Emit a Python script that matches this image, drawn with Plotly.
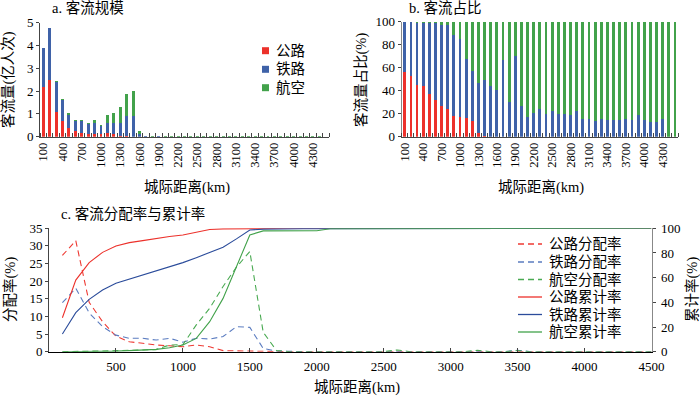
import plotly.graph_objects as go

# ---------------- data ----------------
km = [100, 200, 300, 400, 500, 600, 700, 800, 900, 1000,
      1100, 1200, 1300, 1400, 1500, 1600, 1700, 1800, 1900, 2000,
      2100, 2200, 2300, 2400, 2500, 2600, 2700, 2800, 2900, 3000,
      3100, 3200, 3300, 3400, 3500, 3600, 3700, 3800, 3900, 4000,
      4100, 4200, 4300, 4400, 4500]
bar_tick_km = [100, 400, 700, 1000, 1300, 1600, 1900, 2200, 2500, 2800, 3100, 3400, 3700, 4000, 4300]
line_tick_km = [500, 1000, 1500, 2000, 2500, 3000, 3500, 4000, 4500]

# a. passenger volume (100 million person-trips)
road_vol = [2.16, 2.49, 1.10, 0.69, 0.39, 0.23, 0.18, 0.13, 0.13, 0.10,
            0.15, 0.12, 0.03, 0.015, 0, 0, 0, 0, 0, 0,
            0, 0, 0, 0, 0, 0, 0, 0, 0, 0,
            0, 0, 0, 0, 0, 0, 0, 0, 0, 0,
            0, 0, 0, 0, 0]
rail_vol = [1.71, 2.26, 1.31, 0.92, 0.57, 0.47, 0.49, 0.41, 0.48, 0.37,
            0.46, 0.49, 0.58, 0.895, 0.91, 0.12, 0.012, 0.004, 0.010, 0.004,
            0.003, 0.003, 0.004, 0.003, 0.004, 0.003, 0.003, 0.003, 0.003, 0.003,
            0.002, 0.002, 0.002, 0.002, 0.002, 0.002, 0.002, 0.002, 0.002, 0.002,
            0.002, 0.002, 0.002, 0, 0]
air_vol = [0, 0, 0.05, 0.04, 0.06, 0.03, 0.06, 0.04, 0.12, 0.04,
           0.34, 0.41, 0.68, 0.95, 1.11, 0.13, 0.006, 0.009, 0.004, 0.011,
           0.015, 0.013, 0.012, 0.013, 0.013, 0.012, 0.012, 0.013, 0.011, 0.014,
           0.013, 0.014, 0.012, 0.013, 0.012, 0.012, 0.011, 0.012, 0.009, 0.012,
           0.013, 0.013, 0.011, 0.010, 0.008]

# b. share (%)
road_pct = [56.5, 52.8, 45.0, 44.0, 37.0, 32.0, 26.7, 24.0, 18.0, 16.8,
            16.0, 14.0, 3.0, 1.0, 0, 0, 0, 0, 0, 0,
            0, 0, 0, 0, 0, 0, 0, 0, 0, 0,
            0, 0, 0, 0, 0, 0, 0, 0, 0, 0,
            0, 0, 0, 0, 0]
rail_pct = [43.5, 47.2, 54.0, 54.5, 61.5, 66.5, 70.3, 73.0, 70.4, 67.8,
            52.0, 43.4, 43.4, 48.3, 44.0, 41.0, 66.7, 30.0, 70.0, 26.7,
            16.8, 20.9, 23.8, 19.7, 22.0, 19.7, 19.7, 18.6, 22.0, 15.4,
            15.4, 13.6, 15.4, 14.5, 14.5, 14.5, 15.4, 14.5, 18.6, 14.5,
            13.0, 13.0, 15.4, 0, 0]
air_pct = [0, 0, 1.0, 1.5, 1.5, 1.5, 3.0, 3.0, 11.6, 15.4,
           32.0, 42.6, 53.6, 50.7, 56.0, 59.0, 33.3, 70.0, 30.0, 73.3,
           83.2, 79.1, 76.2, 80.3, 78.0, 80.3, 80.3, 81.4, 78.0, 84.6,
           84.6, 86.4, 84.6, 85.5, 85.5, 85.5, 84.6, 85.5, 81.4, 85.5,
           87.0, 87.0, 84.6, 100, 100]

# c. distribution rate (%) and cumulative rate (%)
road_dist = [27.3, 31.5, 14.0, 8.5, 4.4, 2.8, 2.4, 1.9, 1.7, 1.4,
             1.9, 1.4, 0.3, 0.2, 0.2, 0, 0, 0, 0, 0,
             0, 0, 0, 0, 0, 0, 0, 0, 0, 0,
             0, 0, 0, 0, 0, 0, 0, 0, 0, 0,
             0, 0, 0, 0, 0]
rail_dist = [13.9, 18.0, 11.0, 7.1, 4.7, 3.8, 3.8, 3.3, 3.8, 2.7,
             3.8, 3.6, 4.3, 7.1, 6.9, 0.9, 0.2, 0, 0, 0,
             0, 0, 0, 0, 0, 0.2, 0, 0, 0, 0,
             0, 0.2, 0, 0, 0.4, 0, 0, 0, 0, 0,
             0, 0, 0, 0, 0]
air_dist = [0, 0, 0.1, 0.2, 0.3, 0.3, 0.5, 0.6, 1.9, 2.0,
            7.6, 12.3, 18.5, 24.0, 28.4, 5.5, 0.3, 0, 0, 0,
            0, 0, 0, 0, 0, 0.5, 0, 0, 0, 0,
            0, 0.4, 0, 0, 0.3, 0, 0, 0, 0, 0,
            0, 0, 0, 0, 0]
road_cum = [27.5, 58.0, 72.2, 80.5, 85.7, 88.4, 90.0, 91.9, 93.3, 94.6,
            96.8, 99.0, 99.5, 99.7, 99.9, 100, 100, 100, 100, 100,
            100, 100, 100, 100, 100, 100, 100, 100, 100, 100,
            100, 100, 100, 100, 100, 100, 100, 100, 100, 100,
            100, 100, 100, 100, 100]
rail_cum = [14.3, 31.6, 42.4, 50.0, 55.4, 58.7, 62.2, 65.7, 68.9, 72.2,
            76.2, 80.4, 84.6, 91.4, 98.6, 99.3, 99.6, 99.7, 99.7, 99.7,
            99.7, 99.7, 99.7, 99.7, 99.7, 99.8, 99.8, 99.8, 99.8, 99.8,
            99.8, 99.9, 99.9, 99.9, 100, 100, 100, 100, 100, 100,
            100, 100, 100, 100, 100]
air_cum = [0, 0, 0.1, 0.3, 0.5, 0.9, 1.4, 1.9, 3.2, 5.4,
           10.8, 24.3, 43.2, 68.9, 94.6, 97.9, 97.9, 97.9, 98.0, 98.0,
           99.6, 99.6, 99.6, 99.6, 99.6, 99.7, 99.7, 99.7, 99.7, 99.7,
           99.7, 99.8, 99.8, 99.8, 99.9, 99.9, 99.9, 100, 100, 100,
           100, 100, 100, 100, 100]

modes = ["公路", "铁路", "航空"]
dist_names = ["公路分配率", "铁路分配率", "航空分配率"]
cum_names = ["公路累计率", "铁路累计率", "航空累计率"]

# ---------------- style ----------------
FONT = "Liberation Serif, 'Times New Roman', 'Noto Sans CJK SC', serif"
RED = "#EC312B"
BLUE = "#3F62A8"
GREEN = "#42A24B"
RED_D = "#EE3A33"
BLUE_D = "#5B7CC0"
GREEN_D = "#4AAA52"
BLUE_C = "#2B4C9B"
AX = "#444444"
DASH = "6px,4px"
W, H = 700, 397


def px_x(p):
    return p / W


def px_y(p):
    return 1 - p / H


fig = go.Figure()

# panel a bars
for vals, name, col in zip([road_vol, rail_vol, air_vol], modes, [RED, BLUE, GREEN]):
    fig.add_trace(go.Bar(x=km, y=vals, name=name, marker=dict(color=col, line=dict(width=0)),
                         width=46, xaxis="x", yaxis="y", showlegend=False,
                         hoverinfo="skip"))

# panel b bars
for vals, name, col in zip([road_pct, rail_pct, air_pct], modes, [RED, BLUE, GREEN]):
    fig.add_trace(go.Bar(x=km, y=vals, name=name, marker=dict(color=col, line=dict(width=0)),
                         width=46, xaxis="x2", yaxis="y2", showlegend=False,
                         hoverinfo="skip"))

# panel c lines
for vals, name, col in zip([road_dist, rail_dist, air_dist], dist_names, [RED_D, BLUE_D, GREEN_D]):
    fig.add_trace(go.Scatter(x=km, y=vals, mode="lines", name=name,
                             line=dict(color=col, width=1.1, dash=DASH),
                             xaxis="x3", yaxis="y3", showlegend=False))
for vals, name, col in zip([road_cum, rail_cum, air_cum], cum_names, [RED, BLUE_C, GREEN]):
    fig.add_trace(go.Scatter(x=km, y=vals, mode="lines", name=name,
                             line=dict(color=col, width=1.1),
                             xaxis="x3", yaxis="y4", showlegend=False))

tickfont = dict(family=FONT, size=13, color="black")
bar_ticktext = [str(v) for v in bar_tick_km]

bar_xaxis = dict(range=[50, 4550], tickmode="array", tickvals=bar_tick_km,
                 ticktext=bar_ticktext, tickangle=-90, ticks="", showgrid=False,
                 zeroline=False, showline=True, linecolor=AX, linewidth=1, automargin=False,
                 tickfont=dict(family=FONT, size=12.5, color="black"),
                 minor=dict(tick0=50, dtick=100, ticks="inside", ticklen=4,
                            tickcolor=AX, tickwidth=1, showgrid=False))

fig.update_layout(
    width=W, height=H,
    margin=dict(l=0, r=0, t=0, b=0, autoexpand=False),
    paper_bgcolor="white", plot_bgcolor="white",
    barmode="stack",
    showlegend=False,
    font=dict(family=FONT, size=13, color="black"),
    xaxis=dict(domain=[px_x(40), px_x(329)], anchor="y", **bar_xaxis),
    yaxis=dict(domain=[px_y(136.7), px_y(22.7)], anchor="x", range=[0, 5], dtick=1,
               ticks="outside", ticklen=3, tickcolor=AX, showline=True, linecolor=AX,
               showgrid=False, zeroline=False, tickfont=tickfont, automargin=False),
    xaxis2=dict(domain=[px_x(401.7), px_x(678)], anchor="y2", **bar_xaxis),
    yaxis2=dict(domain=[px_y(136.7), px_y(21.7)], anchor="x2", range=[0, 100], dtick=20,
                ticks="outside", ticklen=3, tickcolor=AX, showline=True, linecolor="#888888",
                showgrid=False, zeroline=False, tickfont=tickfont, automargin=False),
    xaxis3=dict(domain=[px_x(49), px_x(651.5)], anchor="y3", range=[0, 4500],
                tickmode="array", tickvals=line_tick_km,
                ticktext=[str(v) for v in line_tick_km],
                ticks="inside", ticklen=4, tickcolor=AX, showline=True, linecolor="black",
                showgrid=False, zeroline=False, tickfont=tickfont, automargin=False,
                ticklabelstandoff=3),
    yaxis3=dict(domain=[px_y(351.7), px_y(228.3)], anchor="x3", range=[0, 35], dtick=5,
                ticks="outside", ticklen=3, tickcolor=AX, showline=True, linecolor=AX,
                showgrid=False, zeroline=False, tickfont=tickfont, automargin=False),
    yaxis4=dict(overlaying="y3", side="right", anchor="x3", range=[0, 100], dtick=20,
                ticks="outside", ticklen=3, tickcolor=AX, showline=True, linecolor="#888888",
                showgrid=False, zeroline=False, tickfont=tickfont, automargin=False,
                ticklabelstandoff=3),
)

ann_font = dict(family=FONT, size=14.5, color="black")
annotations = [
    # panel titles
    dict(text="a. 客流规模", x=px_x(50), y=px_y(8), xanchor="left", yanchor="middle"),
    dict(text="b. 客流占比", x=px_x(407), y=px_y(8), xanchor="left", yanchor="middle"),
    dict(text="c. 客流分配率与累计率", x=px_x(59), y=px_y(214), xanchor="left", yanchor="middle"),
    # axis titles
    dict(text="城际距离(km)", x=px_x(187), y=px_y(188), xanchor="center", yanchor="middle"),
    dict(text="城际距离(km)", x=px_x(541), y=px_y(188), xanchor="center", yanchor="middle"),
    dict(text="城际距离(km)", x=px_x(357), y=px_y(387), xanchor="center", yanchor="middle"),
    dict(text="客流量(亿人次)", x=px_x(9), y=px_y(80), xanchor="center", yanchor="middle", textangle=-90),
    dict(text="客流量占比(%)", x=px_x(362), y=px_y(80), xanchor="center", yanchor="middle", textangle=-90),
    dict(text="分配率(%)", x=px_x(10), y=px_y(290), xanchor="center", yanchor="middle", textangle=-90),
    dict(text="累计率(%)", x=px_x(692), y=px_y(290), xanchor="center", yanchor="middle", textangle=-90),
]

shapes = []
# legend for panel a (square swatches)
leg_a_rows = [50.7, 69.3, 87.7]
for name, col, yy in zip(modes, [RED, BLUE, GREEN], leg_a_rows):
    shapes.append(dict(type="rect", xref="paper", yref="paper",
                       x0=px_x(262), x1=px_x(269), y0=px_y(yy + 3.5), y1=px_y(yy - 3.5),
                       fillcolor=col, line=dict(width=0)))
    annotations.append(dict(text=name, x=px_x(274), y=px_y(yy), xanchor="left", yanchor="middle"))

# legend for panel c (line swatches)
leg_c_rows = [244, 262, 279.5, 297, 314.5, 332]
leg_c_names = dist_names + cum_names
leg_c_cols = [RED_D, BLUE_D, GREEN_D, RED, BLUE_C, GREEN]
leg_c_dash = [DASH, DASH, DASH, "solid", "solid", "solid"]
for name, col, dsh, yy in zip(leg_c_names, leg_c_cols, leg_c_dash, leg_c_rows):
    shapes.append(dict(type="line", xref="paper", yref="paper",
                       x0=px_x(518), x1=px_x(542), y0=px_y(yy), y1=px_y(yy),
                       line=dict(color=col, width=1.3, dash=dsh)))
    annotations.append(dict(text=name, x=px_x(547), y=px_y(yy), xanchor="left", yanchor="middle"))

for a in annotations:
    a.update(xref="paper", yref="paper", showarrow=False, font=ann_font)
fig.update_layout(annotations=annotations, shapes=shapes)

fig.write_html("out.html",
               config={"displayModeBar": False, "staticPlot": True},
               post_script="document.body.style.margin='0px';document.body.style.padding='0px';"
                           "document.documentElement.style.overflow='hidden';")
